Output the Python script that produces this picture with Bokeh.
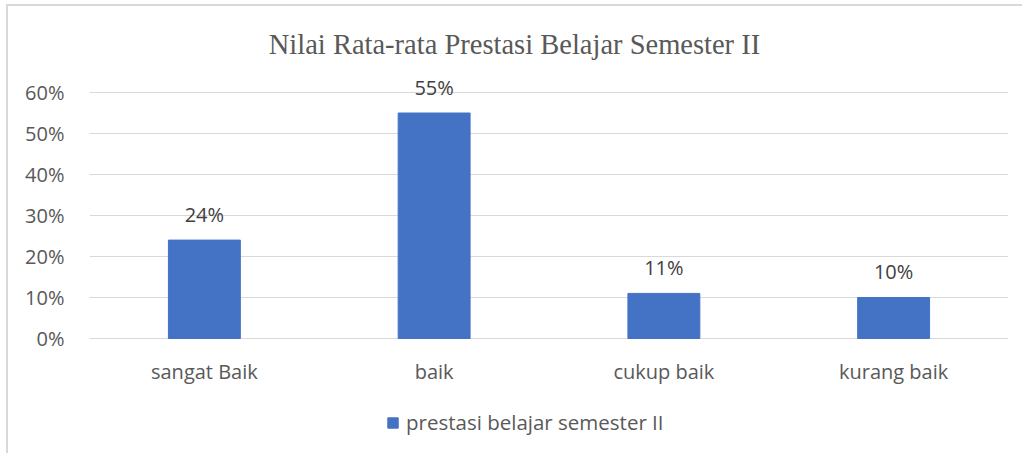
from bokeh.plotting import figure
from bokeh.models import (ColumnDataSource, Legend, LegendItem, NumeralTickFormatter, FixedTicker,
                          LabelSet, Label)
from bokeh.core.properties import value
from bokeh.embed import file_html
from bokeh.resources import INLINE

categories = ["sangat Baik", "baik", "cukup baik", "kurang baik"]
values = [0.24, 0.55, 0.11, 0.10]
labels = ["24%", "55%", "11%", "10%"]
y_ticks = [0.0, 0.1, 0.2, 0.3, 0.4, 0.5, 0.6]
series_name = "prestasi belajar semester II"
title_text = "Nilai Rata-rata Prestasi Belajar Semester II"

TEXT = "#595959"
FONT = "Open Sans"

src = ColumnDataSource(dict(cat=categories, val=values, lab=labels, zero=[0] * len(categories)))

p = figure(x_range=categories, y_range=(-0.2854, 0.8098), width=1016, height=449,
           output_backend="svg", toolbar_location=None,
           min_border_left=81, min_border_right=16, min_border_top=0, min_border_bottom=0)
p.styles = {"border-left": "2px solid #D9D9D9", "border-top": "2px solid #D9D9D9",
            "margin-left": "6px", "margin-top": "4px"}
p.outline_line_color = None

r = p.vbar(x="cat", top="val", width=0.313, source=src, color="#4472C4")

# data labels
p.add_layout(LabelSet(x="cat", y="val", text="lab", source=src, text_align="center",
                      text_baseline="alphabetic", y_offset=18, text_font=value(FONT),
                      text_font_size=value("20px"), text_color="#404040"))
# category labels
p.add_layout(LabelSet(x="cat", y="zero", text="cat", source=src, text_align="center",
                      text_baseline="alphabetic", y_offset=-41, text_font=value(FONT),
                      text_font_size=value("20px"), text_color=TEXT))
# title
p.add_layout(Label(x=425, y=411, x_units="screen", y_units="screen", text=title_text,
                   text_align="center", text_baseline="alphabetic", text_font="Liberation Serif",
                   text_font_size="28.5px", text_color=TEXT))

p.xaxis.visible = False
p.yaxis.ticker = FixedTicker(ticks=y_ticks)
p.yaxis.formatter = NumeralTickFormatter(format="0%")
p.yaxis.axis_line_color = None
p.yaxis.major_tick_line_color = None
p.yaxis.minor_tick_line_color = None
p.yaxis.major_label_text_font = FONT
p.yaxis.major_label_text_font_size = "20px"
p.yaxis.major_label_text_color = TEXT
p.yaxis.major_label_standoff = 19

p.xgrid.grid_line_color = None
p.ygrid.ticker = FixedTicker(ticks=y_ticks)
p.ygrid.grid_line_color = "#D9D9D9"
p.ygrid.grid_line_width = 1

legend = Legend(items=[LegendItem(label=series_name, renderers=[r])], location=(297, 19),
                orientation="horizontal", border_line_color=None, background_fill_alpha=0,
                label_text_font=FONT, label_text_font_size="20.5px", label_text_color=TEXT,
                glyph_width=13, glyph_height=13, padding=0, margin=0, label_standoff=7)
p.add_layout(legend, "center")

open("out.html", "w").write(file_html(p, INLINE))
